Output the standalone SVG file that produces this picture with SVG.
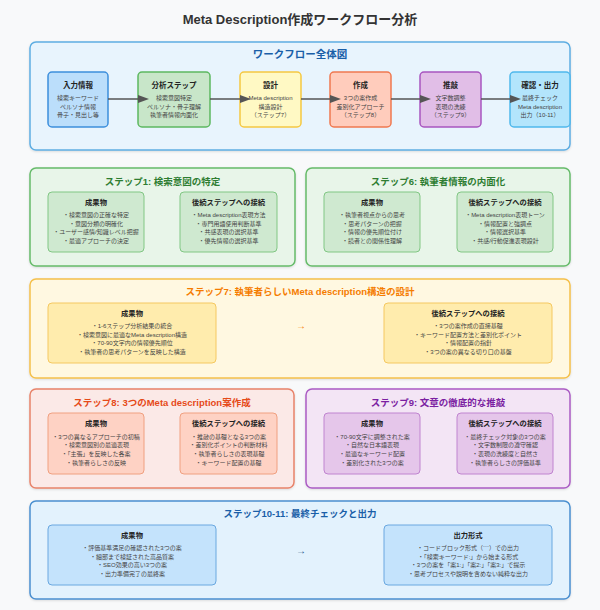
<svg xmlns="http://www.w3.org/2000/svg" width="600" height="610" viewBox="0 0 600 610">
<defs>
<marker id="ah" markerUnits="userSpaceOnUse" markerWidth="12" markerHeight="10" refX="0" refY="4" orient="auto"><path d="M0,0 L11,4 L0,8 z" fill="#555"/></marker>
<filter id="sh" x="-5%" y="-5%" width="110%" height="115%"><feDropShadow dx="0" dy="1" stdDeviation="1" flood-color="#000" flood-opacity="0.12"/></filter>
</defs>
<style>
text{font-family:"Liberation Sans","Noto Sans CJK JP",sans-serif;text-anchor:middle}
.t{font-size:13px;font-weight:bold;fill:#333}
.st{font-size:9.5px;font-weight:bold}
.nt{font-size:7.5px;font-weight:bold;fill:#222}
.nl{font-size:6px;fill:#444}
.it{font-size:7.3px;font-weight:bold;fill:#222}
.il{font-size:6px;fill:#444}
.box{stroke-width:1.5;filter:url(#sh)}
.in{stroke-width:1}
.node{stroke-width:1.5}
.arr{stroke:#555;stroke-width:1.5;fill:none;marker-end:url(#ah)}
</style>
<rect width="600" height="610" fill="#f8f9fa"/>
<text class="t" x="300" y="24">Meta Description作成ワークフロー分析</text>

<g id="workflow">
<rect class="box" x="30" y="42" width="540" height="108" rx="6" fill="#e8f4fd" stroke="#5dade2"/>
<text class="st" x="300" y="58" style="font-size:10.5px" fill="#1a5fa8">ワークフロー全体図</text>
</g>

<g id="n-input">
<rect class="node" x="48" y="72" width="60" height="55" rx="4" fill="#bbdefb" stroke="#3d8fdc"/>
<text class="nt" x="78" y="88">入力情報</text>
<text class="nl" x="78" y="100">検索キーワード</text>
<text class="nl" x="78" y="108.5">ペルソナ情報</text>
<text class="nl" x="78" y="117">骨子・見出し等</text>
</g>
<g id="n-analysis">
<rect class="node" x="138" y="72" width="72" height="55" rx="4" fill="#c8e6c9" stroke="#5cb860"/>
<text class="nt" x="174" y="88">分析ステップ</text>
<text class="nl" x="174" y="100">検索意図特定</text>
<text class="nl" x="174" y="108.5">ペルソナ・骨子理解</text>
<text class="nl" x="174" y="117">執筆者情報内面化</text>
</g>
<g id="n-design">
<rect class="node" x="240" y="72" width="61" height="55" rx="4" fill="#fff9c4" stroke="#f5c842"/>
<text class="nt" x="270.5" y="88">設計</text>
<text class="nl" x="270.5" y="100">Meta description</text>
<text class="nl" x="270.5" y="108.5">構造設計</text>
<text class="nl" x="270.5" y="117">（ステップ7）</text>
</g>
<g id="n-create">
<rect class="node" x="330" y="72" width="61" height="55" rx="4" fill="#ffccbc" stroke="#f07850"/>
<text class="nt" x="360.5" y="88">作成</text>
<text class="nl" x="360.5" y="100">3つの案作成</text>
<text class="nl" x="360.5" y="108.5">差別化アプローチ</text>
<text class="nl" x="360.5" y="117">（ステップ8）</text>
</g>
<g id="n-refine">
<rect class="node" x="420" y="72" width="61" height="55" rx="4" fill="#e1bee7" stroke="#a855c0"/>
<text class="nt" x="450.5" y="88">推敲</text>
<text class="nl" x="450.5" y="100">文字数調整</text>
<text class="nl" x="450.5" y="108.5">表現の洗練</text>
<text class="nl" x="450.5" y="117">（ステップ9）</text>
</g>
<g id="n-output">
<rect class="node" x="510" y="72" width="60" height="55" rx="4" fill="#b3e5fc" stroke="#4fb8ec"/>
<text class="nt" x="540" y="88">確認・出力</text>
<text class="nl" x="540" y="100">最終チェック</text>
<text class="nl" x="540" y="108.5">Meta description</text>
<text class="nl" x="540" y="117">出力（10-11）</text>
</g>

<g id="connectors">
<line class="arr" x1="108" y1="99" x2="138" y2="99"/>
<line class="arr" x1="210" y1="99" x2="240" y2="99"/>
<line class="arr" x1="301" y1="99" x2="330" y2="99"/>
<line class="arr" x1="391" y1="99" x2="420" y2="99"/>
<line class="arr" x1="481" y1="99" x2="510" y2="99"/>
</g>

<g id="step1">
<rect class="box" x="30" y="168" width="265" height="98" rx="6" fill="#e8f5e9" stroke="#66bb6a"/>
<text class="st" x="162.5" y="185" fill="#2e7d32">ステップ1: 検索意図の特定</text>
<rect class="in" x="48" y="192" width="96" height="60" rx="4" fill="#c8e6c9" fill-opacity="0.8" stroke="#81c784"/>
<text class="it" x="96" y="205">成果物</text>
<text class="il" x="96" y="217">・検索意図の正確な特定</text>
<text class="il" x="96" y="225.6">・意図分類の明確化</text>
<text class="il" x="96" y="234.2">・ユーザー感情/知識レベル把握</text>
<text class="il" x="96" y="242.8">・最適アプローチの決定</text>
<rect class="in" x="180" y="192" width="97" height="60" rx="4" fill="#c8e6c9" fill-opacity="0.8" stroke="#81c784"/>
<text class="it" x="228.5" y="205">後続ステップへの接続</text>
<text class="il" x="228.5" y="217">・Meta description表現方法</text>
<text class="il" x="228.5" y="225.6">・専門用語使用判断基準</text>
<text class="il" x="228.5" y="234.2">・共感表現の選択基準</text>
<text class="il" x="228.5" y="242.8">・優先情報の選択基準</text>
</g>

<g id="step6">
<rect class="box" x="306" y="168" width="264" height="98" rx="6" fill="#e8f5e9" stroke="#66bb6a"/>
<text class="st" x="438" y="185" fill="#2e7d32">ステップ6: 執筆者情報の内面化</text>
<rect class="in" x="324" y="192" width="96" height="60" rx="4" fill="#c8e6c9" fill-opacity="0.8" stroke="#81c784"/>
<text class="it" x="372" y="205">成果物</text>
<text class="il" x="372" y="217">・執筆者視点からの思考</text>
<text class="il" x="372" y="225.6">・思考パターンの把握</text>
<text class="il" x="372" y="234.2">・情報の優先順位付け</text>
<text class="il" x="372" y="242.8">・読者との関係性理解</text>
<rect class="in" x="457" y="192" width="96" height="60" rx="4" fill="#c8e6c9" fill-opacity="0.8" stroke="#81c784"/>
<text class="it" x="505" y="205">後続ステップへの接続</text>
<text class="il" x="505" y="217">・Meta description表現トーン</text>
<text class="il" x="505" y="225.6">・情報配置と強調点</text>
<text class="il" x="505" y="234.2">・情報選択基準</text>
<text class="il" x="505" y="242.8">・共感/行動促進表現設計</text>
</g>

<g id="step7">
<rect class="box" x="30" y="279" width="540" height="99" rx="6" fill="#fff8e1" stroke="#f5c04a"/>
<text class="st" x="300" y="295" fill="#f57c00">ステップ7: 執筆者らしいMeta description構造の設計</text>
<rect class="in" x="48" y="303" width="168" height="60" rx="4" fill="#ffe8a0" fill-opacity="0.8" stroke="#f5c860"/>
<text class="it" x="132" y="316">成果物</text>
<text class="il" x="132" y="328">・1-6ステップ分析結果の統合</text>
<text class="il" x="132" y="336.7">・検索意図に最適なMeta description構造</text>
<text class="il" x="132" y="345.4">・70-90文字内の情報優先順位</text>
<text class="il" x="132" y="354.1">・執筆者の思考パターンを反映した構造</text>
<text x="301" y="329" style="font-size:10px" fill="#f57c00">→</text>
<rect class="in" x="384" y="303" width="168" height="60" rx="4" fill="#ffe8a0" fill-opacity="0.8" stroke="#f5c860"/>
<text class="it" x="468" y="316">後続ステップへの接続</text>
<text class="il" x="468" y="328">・3つの案作成の直接基礎</text>
<text class="il" x="468" y="336.7">・キーワード配置方法と差別化ポイント</text>
<text class="il" x="468" y="345.4">・情報配置の指針</text>
<text class="il" x="468" y="354.1">・3つの案の異なる切り口の基盤</text>
</g>

<g id="step8">
<rect class="box" x="30" y="389" width="264" height="99" rx="6" fill="#fbe9e7" stroke="#e8836a"/>
<text class="st" x="162" y="406" fill="#e64a19">ステップ8: 3つのMeta description案作成</text>
<rect class="in" x="48" y="413" width="96" height="61" rx="4" fill="#ffccbc" fill-opacity="0.8" stroke="#f0a080"/>
<text class="it" x="96" y="426">成果物</text>
<text class="il" x="96" y="438.5">・3つの異なるアプローチの初稿</text>
<text class="il" x="96" y="447.2">・検索意図別の最適表現</text>
<text class="il" x="96" y="455.9">・「主張」を反映した各案</text>
<text class="il" x="96" y="464.6">・執筆者らしさの反映</text>
<rect class="in" x="180" y="413" width="97" height="61" rx="4" fill="#ffccbc" fill-opacity="0.8" stroke="#f0a080"/>
<text class="it" x="228.5" y="426">後続ステップへの接続</text>
<text class="il" x="228.5" y="438.5">・推敲の基礎となる3つの案</text>
<text class="il" x="228.5" y="447.2">・差別化ポイントの判断材料</text>
<text class="il" x="228.5" y="455.9">・執筆者らしさの表現基礎</text>
<text class="il" x="228.5" y="464.6">・キーワード配置の基礎</text>
</g>

<g id="step9">
<rect class="box" x="306" y="389" width="264" height="99" rx="6" fill="#f3e5f5" stroke="#ab5cc4"/>
<text class="st" x="438" y="406" fill="#7b1fa2">ステップ9: 文章の徹底的な推敲</text>
<rect class="in" x="324" y="413" width="96" height="61" rx="4" fill="#e1bee7" fill-opacity="0.8" stroke="#c084d0"/>
<text class="it" x="372" y="426">成果物</text>
<text class="il" x="372" y="438.5">・70-90文字に調整された案</text>
<text class="il" x="372" y="447.2">・自然な日本語表現</text>
<text class="il" x="372" y="455.9">・最適なキーワード配置</text>
<text class="il" x="372" y="464.6">・差別化された3つの案</text>
<rect class="in" x="457" y="413" width="96" height="61" rx="4" fill="#e1bee7" fill-opacity="0.8" stroke="#c084d0"/>
<text class="it" x="505" y="426">後続ステップへの接続</text>
<text class="il" x="505" y="438.5">・最終チェック対象の3つの案</text>
<text class="il" x="505" y="447.2">・文字数制限の遵守確認</text>
<text class="il" x="505" y="455.9">・表現の洗練度と自然さ</text>
<text class="il" x="505" y="464.6">・執筆者らしさの評価基準</text>
</g>

<g id="step10">
<rect class="box" x="30" y="501" width="540" height="98" rx="6" fill="#e3f2fd" stroke="#4a8fd0"/>
<text class="st" x="300" y="516.5" fill="#1a5fa8">ステップ10-11: 最終チェックと出力</text>
<rect class="in" x="48" y="525" width="168" height="60" rx="4" fill="#bbdefb" fill-opacity="0.8" stroke="#6aa8e0"/>
<text class="it" x="132" y="537.5">成果物</text>
<text class="il" x="132" y="550">・評価基準満足の確認された3つの案</text>
<text class="il" x="132" y="558.7">・細部まで検証された高品質案</text>
<text class="il" x="132" y="567.4">・SEO効果の高い3つの案</text>
<text class="il" x="132" y="576.1">・出力準備完了の最終案</text>
<text x="301" y="554" style="font-size:10px" fill="#2a5a8a">→</text>
<rect class="in" x="384" y="525" width="168" height="60" rx="4" fill="#bbdefb" fill-opacity="0.8" stroke="#6aa8e0"/>
<text class="it" x="468" y="537.5">出力形式</text>
<text class="il" x="468" y="550">・コードブロック形式（```）での出力</text>
<text class="il" x="468" y="558.7">・「検索キーワード:」から始まる形式</text>
<text class="il" x="468" y="567.4">・3つの案を「案1:」「案2:」「案3:」で提示</text>
<text class="il" x="468" y="576.1">・思考プロセスや説明を含めない純粋な出力</text>
</g>
</svg>
